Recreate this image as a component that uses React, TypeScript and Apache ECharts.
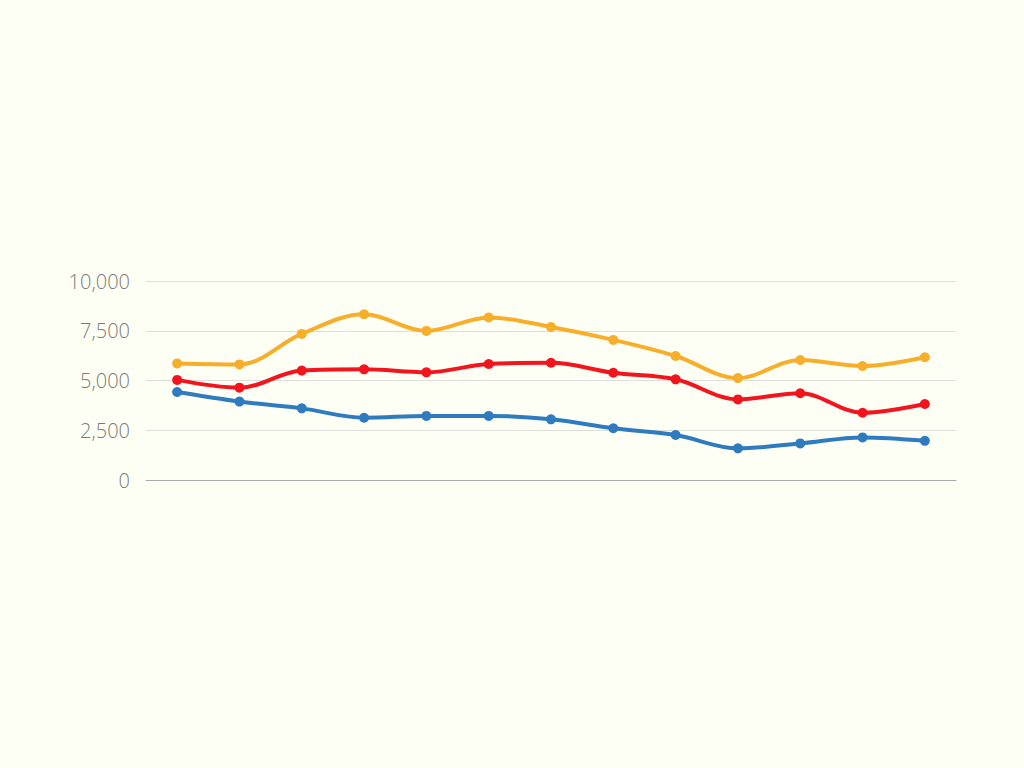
import React, { useEffect, useRef } from 'react'
import * as echarts from 'echarts'

const categories = ['1', '2', '3', '4', '5', '6', '7', '8', '9', '10', '11', '12', '13']
const orangeValues = [5860, 5810, 7340, 8330, 7490, 8170, 7690, 7040, 6230, 5120, 6030, 5730, 6170]
const redValues = [5030, 4640, 5500, 5560, 5410, 5830, 5890, 5390, 5060, 4050, 4360, 3380, 3820]
const blueValues = [4420, 3940, 3600, 3130, 3220, 3220, 3050, 2600, 2260, 1590, 1840, 2140, 1970]
const yTicks = [0, 2500, 5000, 7500, 10000]

const seriesDefs = [
  { name: 'Orange', data: orangeValues, color: '#F7AE2A' },
  { name: 'Red', data: redValues, color: '#F2151E' },
  { name: 'Blue', data: blueValues, color: '#2F7BBF' }
]

const App: React.FC = () => {
  const chartRef = useRef<HTMLDivElement>(null)

  useEffect(() => {
    document.body.style.margin = '0'
    if (!chartRef.current) return
    const chart = echarts.init(chartRef.current, undefined, { renderer: 'svg' })

    const option: echarts.EChartsOption = {
      animation: false,
      backgroundColor: '#FEFFF4',
      grid: { left: 146, right: 68, top: 281, bottom: 288 },
      xAxis: {
        type: 'category',
        data: categories,
        boundaryGap: true,
        axisLine: { lineStyle: { color: '#AAAAAA', width: 1 } },
        axisTick: { show: false },
        axisLabel: { show: false }
      },
      yAxis: {
        type: 'value',
        min: yTicks[0],
        max: yTicks[yTicks.length - 1],
        interval: 2500,
        axisLine: { show: false },
        axisTick: { show: false },
        splitLine: { lineStyle: { color: '#DDDDDA', width: 1 } },
        axisLabel: {
          margin: 16,
          color: '#7A7A7A',
          fontFamily: 'Open Sans',
          fontWeight: 300,
          fontSize: 20,
          formatter: (v: number) => v.toLocaleString('en-US')
        }
      },
      series: seriesDefs.map(s => ({
        name: s.name,
        type: 'line',
        data: s.data,
        smooth: 0.35,
        symbol: 'circle',
        symbolSize: 10,
        lineStyle: { color: s.color, width: 4 },
        itemStyle: { color: s.color }
      })) as any
    }

    chart.setOption(option)
    return () => {
      chart.dispose()
    }
  }, [])

  return <div ref={chartRef} style={{ width: 1024, height: 768 }} />
}

export default App
